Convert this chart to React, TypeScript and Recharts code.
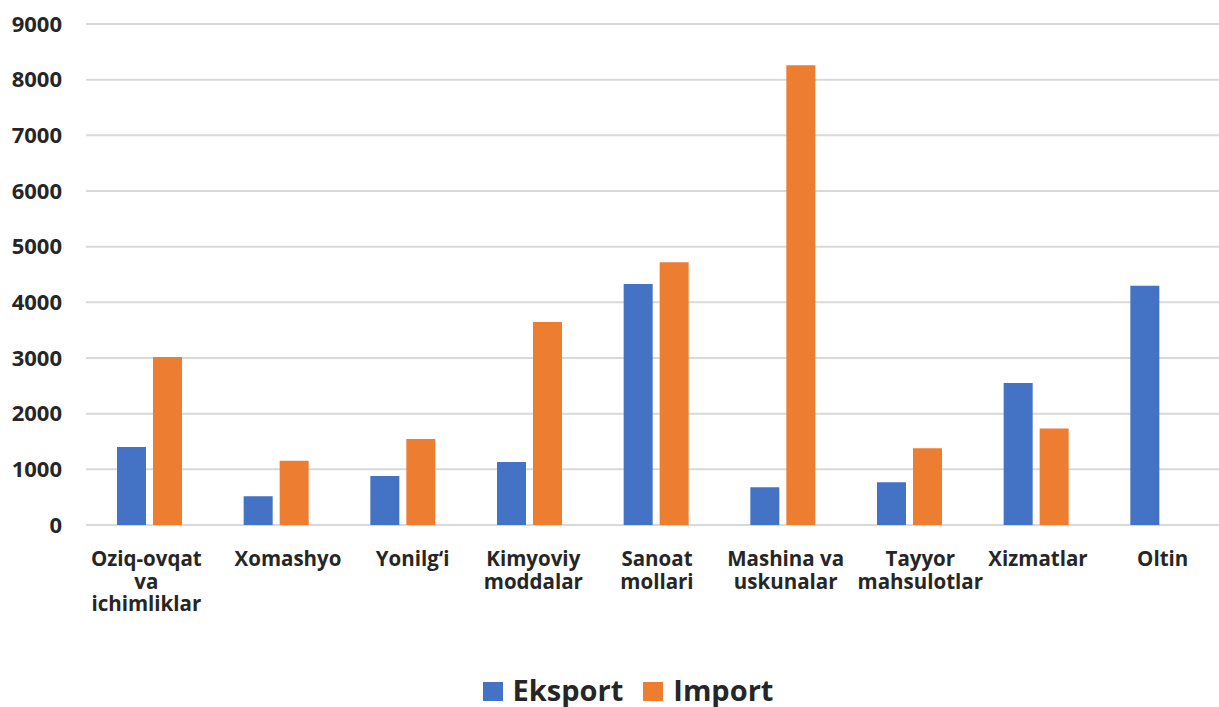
import React from 'react';
import { BarChart, Bar, XAxis, YAxis, CartesianGrid, Legend } from 'recharts';

// Categories (line breaks mark how the axis labels wrap)
const categories = [
  'Oziq-ovqat\nva\nichimliklar',
  'Xomashyo',
  'Yonilg‘i',
  'Kimyoviy\nmoddalar',
  'Sanoat\nmollari',
  'Mashina va\nuskunalar',
  'Tayyor\nmahsulotlar',
  'Xizmatlar',
  'Oltin',
];

const eksport = [1400, 515, 880, 1130, 4330, 680, 770, 2550, 4300];
const importValues = [3020, 1155, 1545, 3645, 4720, 8260, 1380, 1735, 0];

const yTicks = [0, 1000, 2000, 3000, 4000, 5000, 6000, 7000, 8000, 9000];

const BLUE = '#4472C4';
const ORANGE = '#ED7D31';
const TEXT = '#262626';
const FONT = '"Open Sans", sans-serif';

// small horizontal nudges of the category labels, as in the original layout
const labelShift = [-3, 12, 10, 4, 1, 3, 11, 2, 0];

const data = categories.map((name, i) => ({
  name,
  eksport: eksport[i],
  import: importValues[i],
}));

// Multi-line category label
const CategoryTick = (props: any) => {
  const { x, y, payload, index } = props;
  const lines = String(payload.value).split('\n');
  const cx = x + (labelShift[index] || 0);
  return (
    <text
      x={cx}
      y={y + 41}
      textAnchor="middle"
      fill={TEXT}
      fontFamily={FONT}
      fontWeight={700}
      fontSize={20.5}
    >
      {lines.map((line, i) => (
        <tspan key={i} x={cx} dy={i === 0 ? 0 : 22.5}>
          {line}
        </tspan>
      ))}
    </text>
  );
};

const LegendContent = (props: any) => {
  const { payload } = props;
  return (
    <div
      style={{
        height: 40,
        boxSizing: 'border-box',
        paddingTop: 5,
        paddingLeft: 30,
        display: 'flex',
        justifyContent: 'center',
        fontFamily: FONT,
        fontWeight: 700,
        fontSize: 29,
        lineHeight: '35px',
        color: TEXT,
      }}
    >
      {(payload || []).map((entry: any, i: number) => (
        <span key={i} style={{ marginLeft: i === 0 ? 0 : 20, whiteSpace: 'nowrap' }}>
          <span
            style={{
              display: 'inline-block',
              width: 20,
              height: 19,
              background: entry.color,
              marginRight: 10,
            }}
          />
          {entry.value}
        </span>
      ))}
    </div>
  );
};

const App: React.FC = () => {
  return (
    <div
      style={{
        position: 'absolute',
        left: 0,
        top: 0,
        width: 1219,
        height: 707,
        overflow: 'hidden',
        background: '#fff',
      }}
    >
      <BarChart
        width={1226}
        height={707}
        data={data}
        margin={{ top: 24, right: 0, left: 0, bottom: 0 }}
        barSize={29}
        barGap={7}
      >
        <CartesianGrid vertical={false} stroke="#d9d9d9" strokeWidth={2} />
        <XAxis
          dataKey="name"
          height={142}
          axisLine={false}
          tickLine={false}
          tickSize={0}
          tickMargin={0}
          interval={0}
          tick={<CategoryTick />}
        />
        <YAxis
          width={86}
          domain={[0, 9000]}
          ticks={yTicks}
          axisLine={false}
          tickLine={false}
          tickSize={0}
          tickMargin={24}
          tick={{ fill: TEXT, fontFamily: FONT, fontWeight: 700, fontSize: 22 }}
        />
        <Legend
          verticalAlign="bottom"
          content={<LegendContent />}
          wrapperStyle={{ left: 0, width: 1226, bottom: 0 }}
        />
        <Bar dataKey="eksport" name="Eksport" fill={BLUE} isAnimationActive={false} />
        <Bar dataKey="import" name="Import" fill={ORANGE} isAnimationActive={false} />
      </BarChart>
    </div>
  );
};

export default App;
